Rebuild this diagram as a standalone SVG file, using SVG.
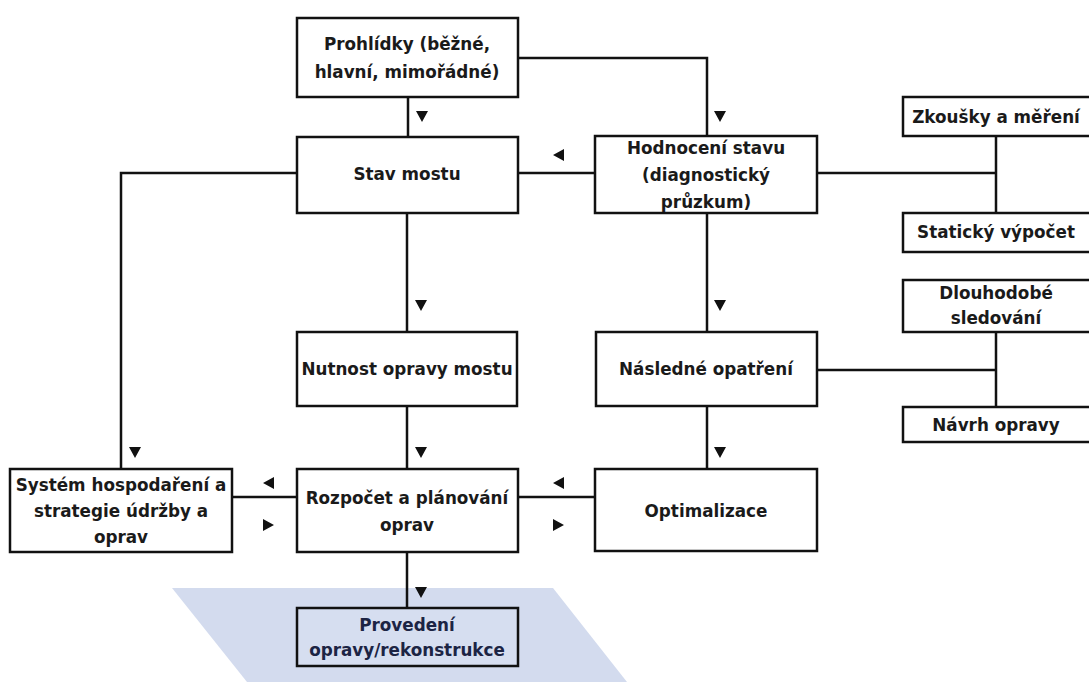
<svg xmlns="http://www.w3.org/2000/svg" width="1089" height="682" viewBox="0 0 1089 682">
<style>
.box{fill:#fff;stroke:#111;stroke-width:2.5}
.line{fill:none;stroke:#111;stroke-width:2.5}
.arr{fill:#111}
text{font-family:"DejaVu Sans","Liberation Sans",sans-serif;font-weight:bold;font-size:16.8px;fill:#1a1a1a;text-anchor:middle;dominant-baseline:central}
.blue text{fill:#1c2444}
</style>
<rect width="1089" height="682" fill="#fff"/>
<polygon points="172,588 553,588 627,682 247,682" fill="#d3dbee"/>
<g id="connectors">
<path class="line" d="M408,97V137 M518,58H707V136 M518,173H595 M817,173H996 M996,136V213 M817,370H996 M996,332V407 M297,173H121V469 M407,213V332 M707,213V332 M407,406V469 M707,406V469 M232,497H297 M518,497H595 M407,552V608"/>
<path class="arr" d="M416,111h12l-6,11z M714,111h12l-6,11z M564,149v12l-11,-6z M415,300h12l-6,11z M714,300h12l-6,11z M129,447h12l-6,11z M415,447h12l-6,11z M714,447h12l-6,11z M274,477v12l-11,-6z M263,519v12l11,-6z M564,477v12l-11,-6z M553,519v12l11,-6z M415,587h12l-6,11z"/>
</g>
<g id="prohlidky"><rect class="box" x="297" y="18" width="221" height="79"/><text x="407" y="44">Prohlídky (běžné,</text><text x="407" y="72">hlavní, mimořádné)</text></g>
<g id="stav"><rect class="box" x="297" y="137" width="221" height="76"/><text x="407" y="174">Stav mostu</text></g>
<g id="hodnoceni"><rect class="box" x="595" y="136" width="222" height="77"/><text x="706" y="148">Hodnocení stavu</text><text x="706" y="175">(diagnostický</text><text x="706" y="202">průzkum)</text></g>
<g id="zkousky"><rect class="box" x="903" y="97" width="195" height="39"/><text x="996" y="117">Zkoušky a měření</text></g>
<g id="staticky"><rect class="box" x="903" y="213" width="195" height="39"/><text x="996" y="232">Statický výpočet</text></g>
<g id="dlouhodobe"><rect class="box" x="903" y="280" width="195" height="52"/><text x="996" y="293">Dlouhodobé</text><text x="996" y="318">sledování</text></g>
<g id="navrh"><rect class="box" x="903" y="407" width="195" height="35"/><text x="996" y="425">Návrh opravy</text></g>
<g id="nutnost"><rect class="box" x="297" y="332" width="220" height="74"/><text x="407" y="369">Nutnost opravy mostu</text></g>
<g id="nasledne"><rect class="box" x="596" y="332" width="221" height="74"/><text x="706" y="369">Následné opatření</text></g>
<g id="system"><rect class="box" x="10" y="469" width="222" height="83"/><text x="121" y="485">Systém hospodaření a</text><text x="121" y="511">strategie údržby a</text><text x="121" y="537">oprav</text></g>
<g id="rozpocet"><rect class="box" x="297" y="469" width="221" height="83"/><text x="407" y="498">Rozpočet a plánování</text><text x="407" y="525">oprav</text></g>
<g id="optimalizace"><rect class="box" x="595" y="469" width="222" height="82"/><text x="706" y="511">Optimalizace</text></g>
<g id="provedeni" class="blue"><rect class="box" x="297" y="608" width="221" height="58" style="fill:#d6def0"/><text x="407" y="625">Provedení</text><text x="407" y="650">opravy/rekonstrukce</text></g>
</svg>
